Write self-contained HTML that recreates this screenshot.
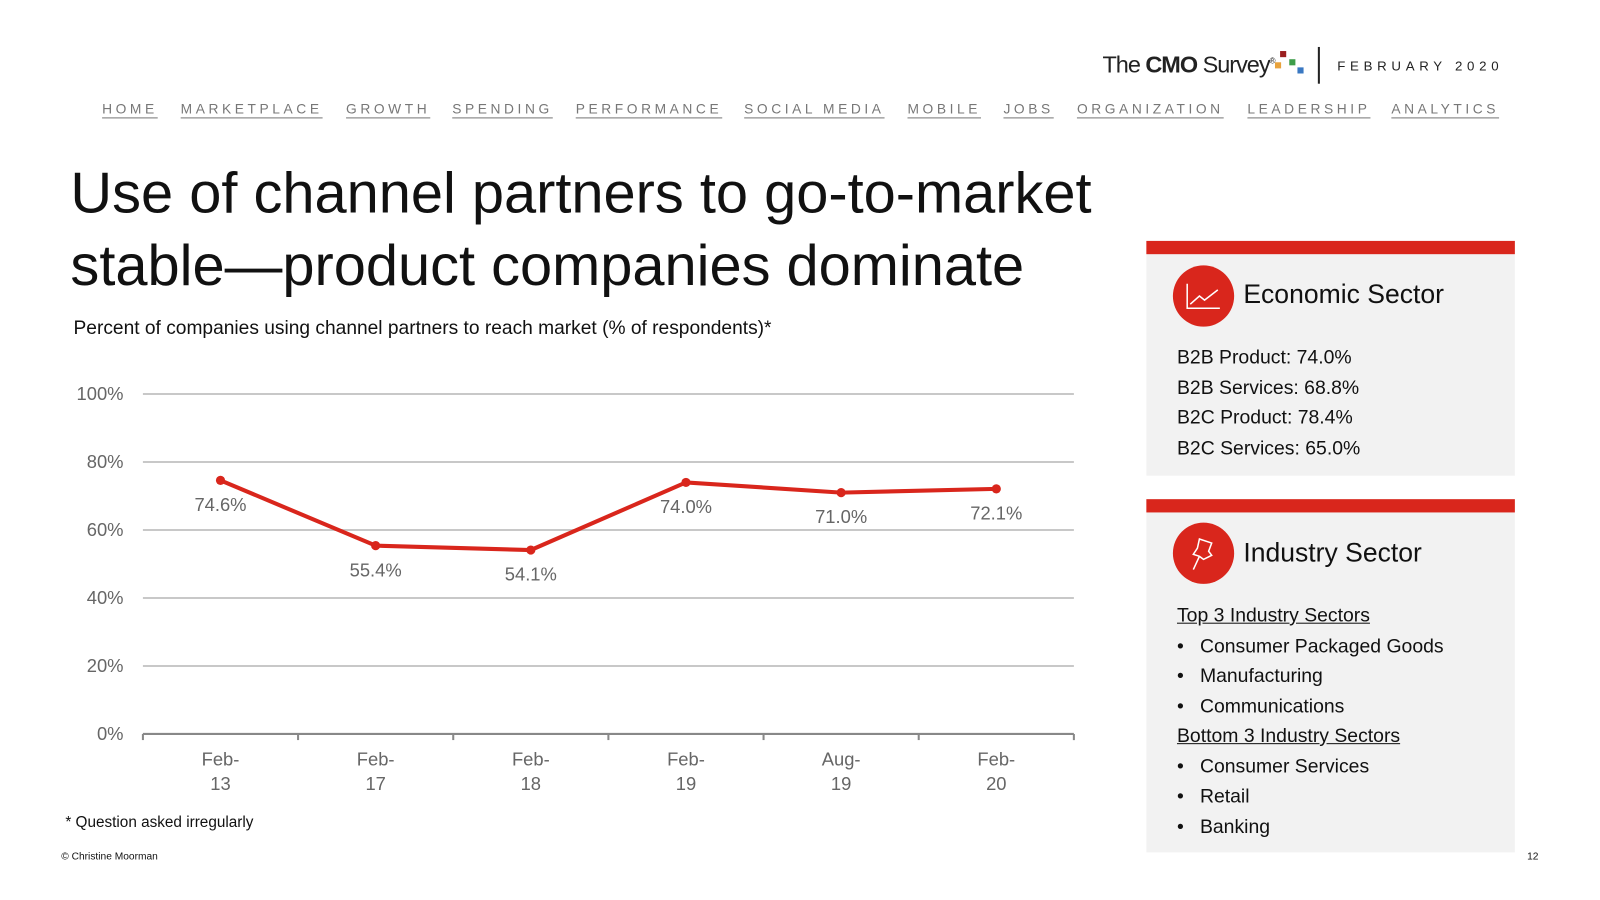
<!DOCTYPE html>
<html><head><meta charset="utf-8"><style>
body{margin:0;width:1600px;height:900px;background:#fff;font-family:"Liberation Sans",sans-serif;position:relative;overflow:hidden;color:#111}
#wrap{position:absolute;left:0;top:0;width:1570px;height:882px;transform:scale(1.0208);transform-origin:0 0}
.abs{position:absolute}
.nav a{position:absolute;top:99px;font-size:13.5px;letter-spacing:3.5px;color:#777;text-decoration:underline;text-underline-offset:4px}
.panel{position:absolute;left:1123px;width:361px;background:#f2f2f2;border-top:13px solid #d9261c}
.circle{position:absolute;width:60px;height:60px;border-radius:50%;background:#d9261c}
.ptxt{position:absolute;font-size:19px;color:#111;line-height:29.5px}
</style></head><body><div id="wrap">
<div class="abs" style="left:1080px;top:50px;font-size:23px;letter-spacing:-1px;color:#222">The <b>CMO</b> Survey<sup style="font-size:8px">®</sup></div>
<div class="abs" style="left:1254px;top:50px;width:26px;height:26px">
<div class="abs" style="left:0;top:0;width:6px;height:6px;background:#9b1f1f"></div>
<div class="abs" style="left:-5px;top:11px;width:6px;height:6px;background:#e8a23c"></div>
<div class="abs" style="left:9px;top:8px;width:6px;height:6px;background:#3e9d4a"></div>
<div class="abs" style="left:17px;top:16px;width:6px;height:6px;background:#3a78c2"></div></div>
<div class="abs" style="left:1291px;top:46px;width:2px;height:36px;background:#222"></div>
<div class="abs" style="left:1310px;top:57px;font-size:13px;letter-spacing:4.6px;color:#222">FEBRUARY 2020</div>
<div class="nav">
<a style="left:100px">HOME</a>
<a style="left:177px">MARKETPLACE</a>
<a style="left:339px">GROWTH</a>
<a style="left:443px">SPENDING</a>
<a style="left:564px">PERFORMANCE</a>
<a style="left:729px">SOCIAL MEDIA</a>
<a style="left:889px">MOBILE</a>
<a style="left:983px">JOBS</a>
<a style="left:1055px">ORGANIZATION</a>
<a style="left:1222px">LEADERSHIP</a>
<a style="left:1363px">ANALYTICS</a>
</div>
<div class="abs" style="left:69px;top:153px;font-size:56.6px;line-height:71px;color:#111;white-space:nowrap">Use of channel partners to go-to-market<br>stable—product companies dominate</div>
<div class="abs" style="left:72px;top:310px;font-size:18.8px">Percent of companies using channel partners to reach market (% of respondents)*</div>
<svg class="abs" style="left:0;top:0" width="1110" height="800" id="chart"></svg>
<div class="abs" style="left:64px;top:797px;font-size:15px">* Question asked irregularly</div>
<div class="abs" style="left:60px;top:834px;font-size:10px">© Christine Moorman</div>
<div class="abs" style="left:1496px;top:834px;font-size:10px">12</div>

<div class="panel" style="top:236px;height:217px">
<div class="circle" style="left:26px;top:11px">
<svg width="60" height="60"><path d="M14 18 V42 H46" stroke="#fff" stroke-width="1.5" fill="none"/><path d="M17 38 L26 30 L31 34 L44 24" stroke="#fff" stroke-width="1.5" fill="none"/></svg></div>
<div class="ptxt" style="left:95px;top:25px;font-size:26px">Economic Sector</div>
<div class="ptxt" style="left:30px;top:87px">B2B Product: 74.0%<br>B2B Services: 68.8%<br>B2C Product: 78.4%<br>B2C Services: 65.0%</div>
</div>
<div class="panel" style="top:489px;height:333px">
<div class="circle" style="left:26px;top:10px">
<svg width="60" height="60"><path d="M26 16 L38 20 L35 28 L38 32 L30 36 L26 33 L20 31 L24 25 Z M26 33 L20 46" stroke="#fff" stroke-width="1.5" fill="none"/></svg></div>
<div class="ptxt" style="left:95px;top:25px;font-size:26px">Industry Sector</div>
<div class="ptxt" style="left:30px;top:87px">
<u>Top 3 Industry Sectors</u><br>•&nbsp;&nbsp; Consumer Packaged Goods<br>•&nbsp;&nbsp; Manufacturing<br>•&nbsp;&nbsp; Communications<br><u>Bottom 3 Industry Sectors</u><br>•&nbsp;&nbsp; Consumer Services<br>•&nbsp;&nbsp; Retail<br>•&nbsp;&nbsp; Banking</div>
</div>
</div>
<script>
const categories=["Feb-13","Feb-17","Feb-18","Feb-19","Aug-19","Feb-20"];
const values=[74.6,55.4,54.1,74.0,71.0,72.1];
const yTicks=[0,20,40,60,80,100];
const svg=document.getElementById('chart');
const NS='http://www.w3.org/2000/svg';
const x0=140,x1=1052,y0=719,y1=386;
const y=v=>y0-(v/100)*(y0-y1);
const step=(x1-x0)/categories.length;
const x=i=>x0+step*(i+0.5);
function mk(t,a){const e=document.createElementNS(NS,t);for(const k in a)e.setAttribute(k,a[k]);svg.appendChild(e);return e;}
yTicks.forEach(t=>{
 if(t>0){const l=mk('line',{x1:x0,x2:x1,y1:y(t),y2:y(t),stroke:'#c8c8c8','stroke-width':2});
 
 }
 const tx=mk('text',{x:121,y:y(t)+6,'text-anchor':'end','font-size':18,fill:'#666'});tx.textContent=t+'%';
 
 
});
const ax=mk('line',{x1:x0,x2:x1,y1:y0,y2:y0,stroke:'#888','stroke-width':2});


for(let i=0;i<=categories.length;i++){mk('line',{x1:x0+step*i,x2:x0+step*i,y1:y0,y2:y0+6,stroke:'#888','stroke-width':2});}
categories.forEach((c,i)=>{const p=c.split('-');
 const t=mk('text',{x:x(i),y:750,'text-anchor':'middle','font-size':18,fill:'#666'});
 
 
 t.innerHTML='<tspan x="'+x(i)+'">'+p[0]+'-</tspan><tspan x="'+x(i)+'" dy="24">'+p[1]+'</tspan>';});
const line=mk('polyline',{points:values.map((v,i)=>x(i)+','+y(v)).join(' '),fill:'none',stroke:'#d9261c','stroke-width':4});


values.forEach((v,i)=>{
 const c=mk('circle',{cx:x(i),cy:y(v),r:4.5,fill:'#d9261c'});
 
 
 const t=mk('text',{x:x(i),y:y(v)+30,'text-anchor':'middle','font-size':18,fill:'#666'});t.textContent=v.toFixed(1)+'%';
 
 
});
</script>
</body></html>
